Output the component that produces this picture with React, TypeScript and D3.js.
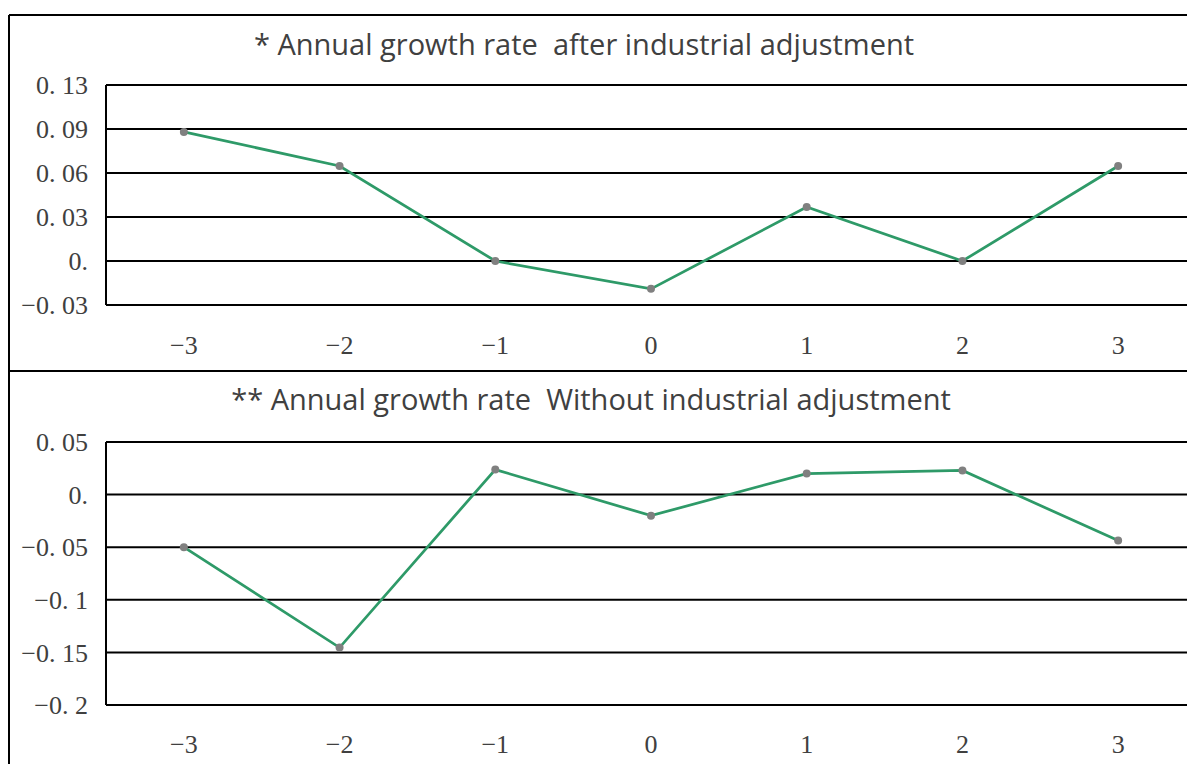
import { useEffect, useRef } from 'react';
import * as d3 from 'd3';

const categories = ['−3', '−2', '−1', '0', '1', '2', '3'];

const afterValues = [0.088, 0.0648, 0.0, -0.019, 0.0368, 0.0, 0.0648];
const withoutValues = [-0.05, -0.1454, 0.0238, -0.02, 0.02, 0.023, -0.0437];

const afterTicks = [-0.03, 0, 0.03, 0.06, 0.09, 0.12];
const afterTickLabels = ['−0. 03', '0.', '0. 03', '0. 06', '0. 09', '0. 13'];
const withoutTicks = [-0.2, -0.15, -0.1, -0.05, 0, 0.05];
const withoutTickLabels = ['−0. 2', '−0. 15', '−0. 1', '−0. 05', '0.', '0. 05'];

const afterTitle = '* Annual growth rate  after industrial adjustment';
const withoutTitle = '** Annual growth rate  Without industrial adjustment';

const W = 1187;
const H = 764;

const App = () => {
  const ref = useRef<SVGSVGElement>(null);

  useEffect(() => {
    const svg = d3.select(ref.current);
    svg.selectAll('*').remove();

    // outer frame
    svg.append('line').attr('x1', 9).attr('x2', W).attr('y1', 15).attr('y2', 15)
      .attr('stroke', '#000').attr('stroke-width', 2);
    svg.append('line').attr('x1', 9).attr('x2', 9).attr('y1', 15).attr('y2', H)
      .attr('stroke', '#000').attr('stroke-width', 2);
    svg.append('line').attr('x1', 9).attr('x2', W).attr('y1', 371).attr('y2', 371)
      .attr('stroke', '#000').attr('stroke-width', 2);

    const panel = (
      values: number[],
      ticks: number[],
      labels: string[],
      title: string,
      titleX: number,
      titleY: number,
      yRange: [number, number],
      xLabelY: number
    ) => {
      const g = svg.append('g');
      const x = d3.scaleBand().domain(categories).range([106, 1196]);
      const y = d3.scaleLinear().domain([ticks[0], ticks[ticks.length - 1]]).range(yRange);

      g.append('text')
        .attr('x', titleX)
        .attr('y', titleY)
        .attr('text-anchor', 'middle')
        .attr('font-family', '"Open Sans", sans-serif')
        .attr('font-size', 29)
        .attr('fill', '#404040')
        .attr('xml:space', 'preserve')
        .style('white-space', 'pre')
        .text(title);

      g.selectAll('line.grid')
        .data(ticks)
        .join('line')
        .attr('class', 'grid')
        .attr('x1', 106)
        .attr('x2', W)
        .attr('y1', (d) => y(d))
        .attr('y2', (d) => y(d))
        .attr('stroke', '#000')
        .attr('stroke-width', 2);

      g.append('line')
        .attr('x1', 106).attr('x2', 106)
        .attr('y1', y(ticks[0])).attr('y2', y(ticks[ticks.length - 1]))
        .attr('stroke', '#000').attr('stroke-width', 2);

      g.selectAll('text.ytick')
        .data(ticks)
        .join('text')
        .attr('class', 'ytick')
        .attr('x', 88)
        .attr('y', (d) => y(d))
        .attr('dy', '0.35em')
        .attr('text-anchor', 'end')
        .attr('font-family', '"Liberation Serif", serif')
        .attr('font-size', 26)
        .attr('fill', '#404040')
        .text((_, i) => labels[i]);

      g.selectAll('text.xtick')
        .data(categories)
        .join('text')
        .attr('class', 'xtick')
        .attr('x', (d) => x(d)! + x.bandwidth() / 2)
        .attr('y', xLabelY)
        .attr('dy', '0.35em')
        .attr('text-anchor', 'middle')
        .attr('font-family', '"Liberation Serif", serif')
        .attr('font-size', 26)
        .attr('fill', '#404040')
        .text((d) => d);

      const line = d3
        .line<number>()
        .x((_, i) => x(categories[i])! + x.bandwidth() / 2)
        .y((d) => y(d));

      g.append('path')
        .attr('d', line(values))
        .attr('fill', 'none')
        .attr('stroke', '#2e9a68')
        .attr('stroke-width', 2.75);

      g.selectAll('circle')
        .data(values)
        .join('circle')
        .attr('cx', (_, i) => x(categories[i])! + x.bandwidth() / 2)
        .attr('cy', (d) => y(d))
        .attr('r', 4)
        .attr('fill', '#808080');
    };

    panel(afterValues, afterTicks, afterTickLabels, afterTitle, 584, 55, [305, 85], 345);
    panel(withoutValues, withoutTicks, withoutTickLabels, withoutTitle, 591, 410, [705, 442], 744);
  }, []);

  return (
    <svg
      ref={ref}
      width={W}
      height={H}
      style={{ position: 'absolute', left: 0, top: 0, background: '#fff' }}
    />
  );
};

export default App;
